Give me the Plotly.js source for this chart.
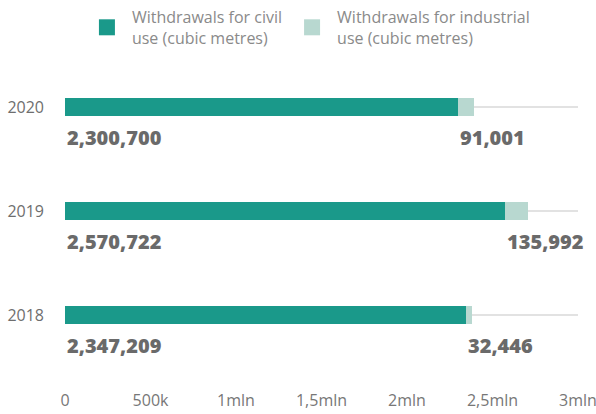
<!DOCTYPE html>
<html>
<head>
<meta charset="utf-8">
<script src="https://cdn.plot.ly/plotly-3.0.1.min.js"></script>
<style>html,body{margin:0;padding:0;background:#fff;}#chart{width:596px;height:414px;}</style>
</head>
<body>
<div id="chart"></div>
<script>
// ---- data ----
const years = ['2018', '2019', '2020'];
const civil = [2347209, 2570722, 2300700];
const industrial = [32446, 135992, 91001];
const seriesNames = ['Withdrawals for civil<br>use (cubic metres)', 'Withdrawals for industrial<br>use (cubic metres)'];
const tickValues = [0, 500000, 1000000, 1500000, 2000000, 2500000, 3000000];
const tickLabels = ['0', '500k', '1mln', '1,5mln', '2mln', '2,5mln', '3mln'];
const axisMax = 3000000;

// ---- styles ----
const teal = '#1a998a';
const light = '#b8d8d0';
const fontFam = '"Open Sans", sans-serif';
const fmt = v => String(v).replace(/\B(?=(\d{3})+(?!\d))/g, ',');

const traces = [
  {type: 'bar', orientation: 'h', y: years, x: civil, marker: {color: teal, line: {width: 0}},
   showlegend: false, hoverinfo: 'skip'},
  {type: 'bar', orientation: 'h', y: years, x: industrial, marker: {color: light, line: {width: 0}},
   showlegend: false, hoverinfo: 'skip'},
  {type: 'scatter', mode: 'markers', x: [null], y: [null], name: seriesNames[0] + '\u00a0',
   marker: {symbol: 'square', size: 16, color: teal}, hoverinfo: 'skip'},
  {type: 'scatter', mode: 'markers', x: [null], y: [null], name: seriesNames[1],
   marker: {symbol: 'square', size: 16, color: light}, hoverinfo: 'skip'}
];

const labelFont = {family: fontFam, size: 20, color: '#6a6a6a', weight: 800};
const annotations = [];
years.forEach((yr, i) => {
  annotations.push({x: 0, y: i, xref: 'x', yref: 'y', text: fmt(civil[i]), showarrow: false,
    xanchor: 'left', yanchor: 'middle', yshift: -30, font: labelFont});
  annotations.push({x: civil[i], y: i, xref: 'x', yref: 'y', text: fmt(industrial[i]), showarrow: false,
    xanchor: 'left', yanchor: 'middle', yshift: -30, font: labelFont});
});

const shapes = years.map((yr, i) => ({
  type: 'line', layer: 'below', xref: 'x', yref: 'y', x0: 0, x1: axisMax, y0: i, y1: i,
  line: {color: '#e2e2e2', width: 2}
}));

const layout = {
  width: 596, height: 414,
  margin: {l: 65, r: 18, t: 52, b: 47, pad: 0},
  paper_bgcolor: '#fff', plot_bgcolor: '#fff',
  barmode: 'stack', bargap: 0.82,
  font: {family: fontFam, color: '#777'},
  xaxis: {range: [0, axisMax], tickvals: tickValues, ticktext: tickLabels, showgrid: false,
    zeroline: false, showline: false, ticks: '', tickfont: {size: 16, color: '#777'},
    ticklabelstandoff: 22, ticklabeloverflow: 'allow', fixedrange: true},
  yaxis: {type: 'category', categoryorder: 'array', categoryarray: years, range: [-0.5, 2.5],
    showgrid: false, zeroline: false, showline: false, ticks: '',
    tickfont: {size: 16, color: '#6e6e6e'}, ticklabelstandoff: 20, fixedrange: true},
  showlegend: true,
  legend: {orientation: 'h', x: 0.033, xanchor: 'left', yref: 'container', y: 1.0, yanchor: 'top',
    font: {size: 16, color: '#8a8a8a', family: fontFam}, itemwidth: 40,
    bgcolor: 'rgba(0,0,0,0)', traceorder: 'normal', itemclick: false, itemdoubleclick: false},
  annotations: annotations,
  shapes: shapes,
  hovermode: false
};

Plotly.newPlot('chart', traces, layout, {displayModeBar: false, staticPlot: true});
</script>
</body>
</html>
